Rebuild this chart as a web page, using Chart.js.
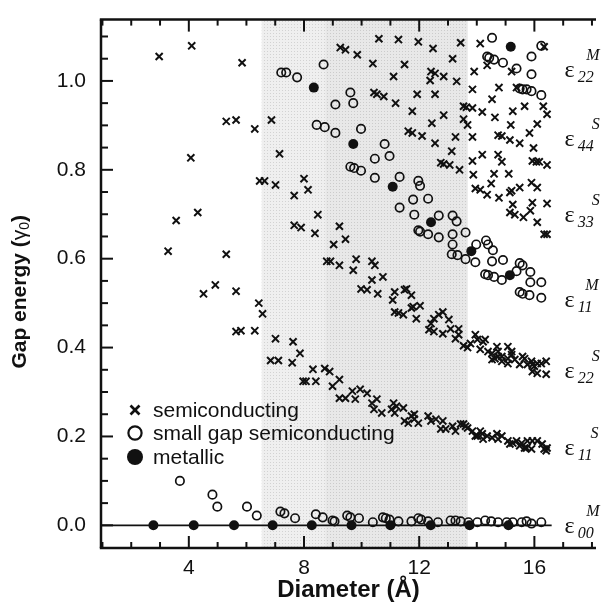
<!DOCTYPE html>
<html>
<head>
<meta charset="utf-8">
<script src="https://cdn.jsdelivr.net/npm/chart.js@4.4.0/dist/chart.umd.min.js"></script>
<style>
  body { margin: 0; background: #fff; }
  canvas { display: block; }
</style>
</head>
<body>
<canvas id="gapChart" width="603" height="604"></canvas>
<script>
// gap energies (units of gamma0) against tube diameter (Angstrom)
const semiconducting = [
  [2.97,1.055],[4.10,1.079],[5.85,1.041],[5.30,0.909],[5.64,0.912],[6.29,0.892],[6.87,0.912],
  [4.07,0.827],[7.15,0.836],[6.46,0.775],[6.63,0.775],[7.01,0.766],[7.66,0.742],[7.66,0.675],
  [3.56,0.686],[4.31,0.704],[3.28,0.617],[5.30,0.610],[4.51,0.521],[4.92,0.541],[5.64,0.527],
  [6.43,0.500],[6.56,0.476],[5.64,0.436],[5.81,0.438],[6.29,0.438],[7.01,0.420],[7.62,0.413],
  [6.84,0.371],[7.11,0.371],[7.59,0.366],[7.86,0.387],
  [9.26,1.075],[9.44,1.070],[9.85,1.059],[10.60,1.095],[11.28,1.093],[10.39,1.039],[11.49,1.037],
  [11.11,1.010],[10.43,0.974],[10.53,0.970],[10.77,0.965],[11.18,0.950],[8.00,0.780],[8.14,0.755],
  [11.97,1.088],[12.48,1.073],[13.44,1.086],[13.16,1.050],[12.41,1.021],[12.55,1.017],[12.85,1.010],
  [12.38,1.001],[13.30,0.999],[11.93,0.970],[12.55,0.970],[11.76,0.932],[12.85,0.923],[13.54,0.943],
  [13.64,0.941],[12.44,0.905],[13.54,0.914],[13.68,0.901],[11.62,0.887],[11.76,0.883],[12.10,0.876],
  [13.26,0.874],[12.55,0.860],[13.13,0.842],[12.75,0.816],[12.85,0.813],[13.06,0.811],[13.40,0.800],
  [8.48,0.699],[7.90,0.670],[8.38,0.657],[9.23,0.673],[9.44,0.644],[9.03,0.632],[8.79,0.594],
  [8.92,0.594],[9.23,0.585],[9.81,0.599],[9.71,0.574],[10.36,0.594],[10.46,0.585],[10.36,0.552],
  [10.74,0.559],[9.98,0.532],[10.19,0.530],[10.56,0.521],[11.15,0.525],[11.49,0.530],[11.08,0.507],
  [11.15,0.480],[11.28,0.478],[11.45,0.474],
  [14.12,1.084],[13.91,1.021],[13.85,0.981],[14.77,0.985],[15.21,1.021],[14.36,1.035],[15.38,0.985],
  [16.34,1.077],[14.53,0.959],[13.85,0.939],[14.19,0.930],[15.25,0.932],[15.66,0.943],[16.31,0.943],
  [16.44,0.925],[14.63,0.918],[15.18,0.901],[16.10,0.903],[13.85,0.874],[14.74,0.878],[14.87,0.876],
  [15.15,0.867],[15.49,0.860],[15.83,0.883],[15.97,0.849],[14.19,0.834],[14.74,0.834],[14.87,0.818],
  [13.85,0.820],[15.93,0.820],[16.07,0.818],[16.17,0.818],[16.44,0.811],[13.88,0.789],[14.60,0.791],
  [15.11,0.791],[14.50,0.769],[13.95,0.758],[14.12,0.755],[15.21,0.753],[15.49,0.760],[15.90,0.771],
  [16.10,0.760],[14.36,0.744],[14.77,0.737],[15.15,0.749],[15.25,0.722],[15.93,0.726],[16.44,0.724],
  [15.15,0.704],[15.32,0.699],[15.62,0.693],[15.86,0.708],[16.10,0.682],[16.34,0.655],[16.44,0.655],
  [11.56,0.532],[11.73,0.518],[11.73,0.489],[12.03,0.494],[11.79,0.492],[11.90,0.465],[12.82,0.480],
  [12.68,0.474],[12.51,0.465],[13.03,0.463],[12.41,0.454],[12.34,0.440],[12.51,0.436],[12.82,0.431],
  [13.09,0.442],[13.37,0.442],[13.26,0.420],[13.37,0.429],[13.54,0.404],[13.68,0.400],[13.95,0.429],
  [14.02,0.418],[14.29,0.418],[13.78,0.409],[14.22,0.413],[14.12,0.396],[14.39,0.391],[14.70,0.402],
  [14.74,0.380],[14.87,0.380],[14.74,0.391],[15.08,0.402],[15.21,0.391],[15.32,0.373],[15.59,0.380],
  [14.53,0.373],[14.53,0.387],[14.63,0.375],[14.87,0.369],[15.08,0.364],[15.08,0.375],[15.21,0.384],
  [15.49,0.362],[15.66,0.375],[15.76,0.362],[15.90,0.369],[15.93,0.362],[16.00,0.358],[16.10,0.364],
  [15.93,0.346],[16.10,0.342],[16.41,0.340],[16.41,0.369],[16.24,0.364],
  [7.97,0.324],[8.07,0.324],[8.41,0.324],[8.31,0.351],[8.72,0.353],[8.89,0.346],[8.99,0.313],
  [9.23,0.328],[9.23,0.286],[9.44,0.286],[9.78,0.284],[9.68,0.302],[9.95,0.306],[10.19,0.297],
  [10.53,0.284],[10.43,0.261],[10.70,0.253],[10.36,0.275],[11.11,0.275],[11.21,0.268],[11.45,0.264],
  [11.04,0.261],[11.15,0.253],[11.73,0.246],[11.83,0.239],[11.83,0.250],[11.62,0.230],[11.97,0.230],
  [11.49,0.235],[12.31,0.246],[12.41,0.235],[12.58,0.239],[12.82,0.235],[12.75,0.217],[12.92,0.217],
  [13.16,0.223],[13.26,0.212],[13.44,0.228],[13.61,0.223],[13.54,0.228],[13.68,0.219],[13.85,0.212],
  [13.95,0.201],[14.12,0.212],[14.02,0.201],[14.19,0.206],[14.36,0.201],[14.53,0.197],[14.70,0.206],
  [14.22,0.194],[14.74,0.194],[14.87,0.201],[15.08,0.190],[15.25,0.185],[15.15,0.183],[15.38,0.190],
  [15.49,0.179],[15.66,0.174],[15.56,0.185],[15.76,0.190],[15.93,0.190],[16.10,0.190],[16.27,0.183],
  [16.34,0.172],[16.44,0.174],[16.41,0.168],[15.73,0.174],[15.90,0.172]
];

const smallGap = [
  [7.21,1.019],[7.38,1.019],[7.76,1.008],[8.68,1.037],[9.61,0.974],[9.09,0.947],[9.71,0.950],
  [8.44,0.901],[8.72,0.896],[9.09,0.883],[9.98,0.892],[10.80,0.858],[10.46,0.825],[10.97,0.831],
  [9.61,0.807],[9.74,0.804],[9.98,0.798],[10.46,0.782],[11.32,0.784],
  [14.53,1.097],[14.36,1.055],[14.43,1.052],[14.60,1.048],[14.91,1.041],[15.38,1.028],[15.90,1.055],
  [16.24,1.079],[15.90,1.015],[15.49,0.983],[15.59,0.981],[15.73,0.981],[15.90,0.977],[16.24,0.968],
  [11.97,0.775],[12.03,0.764],
  [11.32,0.715],[11.79,0.733],[12.31,0.735],[11.83,0.699],[12.68,0.697],[11.97,0.664],[12.03,0.661],
  [12.31,0.655],[12.68,0.648],[13.16,0.697],[13.30,0.684],[13.61,0.659],[13.16,0.655],[13.16,0.632],
  [13.13,0.610],[13.33,0.608],[13.61,0.599],[13.98,0.632],[13.95,0.592],[14.32,0.641],[14.39,0.632],
  [14.56,0.619],[14.53,0.594],[14.91,0.597],[14.29,0.565],[14.39,0.563],[14.60,0.559],[14.87,0.552],
  [15.49,0.590],[15.59,0.585],[15.38,0.572],[15.86,0.570],[15.86,0.547],[16.24,0.547],[15.49,0.525],
  [15.59,0.521],[15.83,0.518],[16.24,0.512],
  [3.69,0.100],[4.82,0.069],[4.99,0.042],[6.02,0.042],[6.36,0.022],[7.18,0.031],[7.32,0.027],
  [7.69,0.016],[8.41,0.025],[8.65,0.018],[8.99,0.011],[9.06,0.009],[9.50,0.022],[9.61,0.018],
  [9.91,0.016],[10.39,0.007],[10.74,0.018],[10.84,0.016],[10.97,0.013],[11.28,0.009],[11.73,0.009],
  [11.97,0.016],[12.07,0.013],[12.31,0.009],[12.65,0.007],[13.09,0.011],[13.26,0.011],[13.44,0.009],
  [13.71,0.007],[14.02,0.007],[14.29,0.011],[14.50,0.009],[14.74,0.007],[15.04,0.007],[15.25,0.007],
  [15.56,0.007],[15.73,0.009],[15.90,0.004],[16.24,0.007]
];

const metallic = [
  [2.77,0],[4.17,0],[5.57,0],[6.91,0],[8.27,0],[9.65,0],[11.00,0],[12.40,0],[13.75,0],[15.10,0],
  [8.34,0.985],[9.71,0.858],[11.08,0.762],[12.41,0.682],[13.81,0.617],[15.15,0.563],[15.18,1.077]
];

const zeroLine = [[0.95, 0], [16.6, 0]];

const xTicks = [4, 8, 12, 16];
const yTicks = [0.0, 0.2, 0.4, 0.6, 0.8, 1.0];
const xRange = [0.95, 18.14];
const yRange = [-0.051, 1.138];

// diameter window shaded behind the points
const shadeBand = [6.53, 13.68];
const darkBand = [8.75, 13.68];

// transition labels on the right
const labelX = 17.05;
const bandLabels = [
  { sub: '22', sup: 'M', y: 1.023 },
  { sub: '44', sup: 'S', y: 0.867 },
  { sub: '33', sup: 'S', y: 0.697 },
  { sub: '11', sup: 'M', y: 0.505 },
  { sub: '22', sup: 'S', y: 0.346 },
  { sub: '11', sup: 'S', y: 0.172 },
  { sub: '00', sup: 'M', y: -0.004 }
];

const SANS = '"Liberation Sans", Arial, sans-serif';
const SERIF = '"Liberation Serif", "Times New Roman", serif';
const INK = '#111';

const toXY = pts => pts.map(([x, y]) => ({ x, y }));

function makePattern(ctx, base, dot) {
  const c = document.createElement('canvas');
  c.width = c.height = 3;
  const p = c.getContext('2d');
  p.fillStyle = base;
  p.fillRect(0, 0, 3, 3);
  p.fillStyle = dot;
  p.fillRect(0, 0, 1, 1);
  return ctx.createPattern(c, 'repeat');
}

function seg(ctx, x1, y1, x2, y2) {
  ctx.beginPath();
  ctx.moveTo(x1, y1);
  ctx.lineTo(x2, y2);
  ctx.stroke();
}

const decorations = {
  id: 'decorations',
  beforeDatasetsDraw(chart) {
    const { ctx, chartArea: a, scales: { x } } = chart;
    ctx.save();
    const l0 = x.getPixelForValue(shadeBand[0]), l1 = x.getPixelForValue(shadeBand[1]);
    ctx.fillStyle = makePattern(ctx, '#efefef', '#d2d2d2');
    ctx.fillRect(l0, a.top, l1 - l0, a.bottom - a.top);
    const d0 = x.getPixelForValue(darkBand[0]), d1 = x.getPixelForValue(darkBand[1]);
    ctx.fillStyle = makePattern(ctx, '#e8e8e8', '#cbcbcb');
    ctx.fillRect(d0, a.top, d1 - d0, a.bottom - a.top);
    ctx.restore();
  },
  afterDraw(chart) {
    const { ctx, chartArea: a, scales: { x, y } } = chart;
    ctx.save();
    ctx.strokeStyle = INK;
    ctx.fillStyle = INK;

    // frame: left, top and bottom only
    ctx.lineWidth = 2.5;
    seg(ctx, a.left, a.top, a.left, a.bottom);
    seg(ctx, a.left - 1.2, a.top, a.right, a.top);
    seg(ctx, a.left - 1.2, a.bottom, a.right, a.bottom);

    // inward ticks
    ctx.lineWidth = 2;
    for (let v = Math.ceil(x.min); v <= x.max; v += 1) {
      const px = x.getPixelForValue(v);
      const len = xTicks.includes(v) ? 12 : 6;
      seg(ctx, px, a.bottom, px, a.bottom - len);
      seg(ctx, px, a.top, px, a.top + len);
    }
    for (let i = 0; i * 0.05 <= y.max; i++) {
      const py = y.getPixelForValue(i * 0.05);
      seg(ctx, a.left, py, a.left + (i % 4 === 0 ? 12 : 7), py);
    }

    // right-hand transition labels
    const lx = x.getPixelForValue(labelX);
    bandLabels.forEach(b => {
      const py = y.getPixelForValue(b.y);
      ctx.textBaseline = 'middle';
      ctx.textAlign = 'left';
      ctx.font = '24px ' + SERIF;
      ctx.fillText('\u03b5', lx, py);
      const w = ctx.measureText('\u03b5').width;
      ctx.font = 'italic 16px ' + SERIF;
      ctx.fillText(b.sub, lx + w + 3, py + 7);
      const sw = ctx.measureText(b.sub).width;
      ctx.textAlign = 'right';
      ctx.fillText(b.sup, lx + w + sw + 9, py - 15);
    });

    // legend
    const rows = [
      { label: 'semiconducting', y: 410, mark: 'cross' },
      { label: 'small gap semiconducting', y: 433, mark: 'ring' },
      { label: 'metallic', y: 457, mark: 'dot' }
    ];
    rows.forEach(r => {
      const mx = 135;
      if (r.mark === 'cross') {
        ctx.lineWidth = 2.6;
        seg(ctx, mx - 4.5, r.y - 4.5, mx + 4.5, r.y + 4.5);
        seg(ctx, mx - 4.5, r.y + 4.5, mx + 4.5, r.y - 4.5);
      } else if (r.mark === 'ring') {
        ctx.lineWidth = 2.2;
        ctx.beginPath();
        ctx.arc(mx, r.y, 6.6, 0, Math.PI * 2);
        ctx.stroke();
      } else {
        ctx.beginPath();
        ctx.arc(mx, r.y, 8, 0, Math.PI * 2);
        ctx.fill();
      }
      ctx.font = '21px ' + SANS;
      ctx.textAlign = 'left';
      ctx.textBaseline = 'middle';
      ctx.fillText(r.label, 153, r.y + 1);
    });

    // x axis title
    ctx.font = 'bold 24px ' + SANS;
    ctx.textAlign = 'center';
    ctx.textBaseline = 'middle';
    ctx.fillText('Diameter (\u00c5)', (a.left + a.right) / 2, 590);

    // y axis title with subscript
    const parts = [
      { t: 'Gap energy (', f: 'bold 21px ' + SANS, dy: 0 },
      { t: '\u03b3', f: '21px ' + SANS, dy: 0 },
      { t: '0', f: '14px ' + SANS, dy: 5 },
      { t: ')', f: 'bold 21px ' + SANS, dy: 0 }
    ];
    let total = 0;
    parts.forEach(p => { ctx.font = p.f; p.w = ctx.measureText(p.t).width; total += p.w; });
    ctx.translate(20, (a.top + a.bottom) / 2 + 8);
    ctx.rotate(-Math.PI / 2);
    ctx.textAlign = 'left';
    let cx = -total / 2;
    parts.forEach(p => {
      ctx.font = p.f;
      ctx.fillText(p.t, cx, p.dy);
      cx += p.w;
    });
    ctx.restore();
  }
};

new Chart(document.getElementById('gapChart'), {
  type: 'scatter',
  data: {
    datasets: [
      {
        label: 'metallic',
        data: toXY(metallic),
        pointStyle: 'circle',
        pointRadius: 5,
        backgroundColor: INK,
        borderColor: INK,
        borderWidth: 0,
        order: 1
      },
      {
        label: 'semiconducting',
        data: toXY(semiconducting),
        pointStyle: 'crossRot',
        pointRadius: 5,
        borderColor: INK,
        borderWidth: 2,
        order: 2
      },
      {
        label: 'small gap semiconducting',
        data: toXY(smallGap),
        pointStyle: 'circle',
        pointRadius: 4.2,
        backgroundColor: 'rgba(0,0,0,0)',
        borderColor: INK,
        borderWidth: 1.7,
        order: 3
      },
      {
        type: 'line',
        data: toXY(zeroLine),
        borderColor: INK,
        borderWidth: 1.6,
        pointRadius: 0,
        order: 4
      }
    ]
  },
  options: {
    responsive: false,
    animation: false,
    events: [],
    layout: { padding: { top: 15, right: 0, bottom: 0, left: 0 } },
    plugins: { legend: { display: false }, tooltip: { enabled: false } },
    scales: {
      x: {
        type: 'linear',
        min: xRange[0],
        max: xRange[1],
        grid: { display: false },
        border: { display: false },
        afterBuildTicks: s => { s.ticks = xTicks.map(v => ({ value: v })); },
        afterFit: s => { s.height = 56; },
        ticks: {
          autoSkip: false,
          maxRotation: 0,
          padding: 0,
          color: INK,
          font: { family: SANS, size: 21 },
          callback: v => String(v)
        }
      },
      y: {
        type: 'linear',
        min: yRange[0],
        max: yRange[1],
        grid: { display: false },
        border: { display: false },
        afterBuildTicks: s => { s.ticks = yTicks.map(v => ({ value: v })); },
        afterFit: s => { s.width = 101; },
        ticks: {
          autoSkip: false,
          padding: 7,
          color: INK,
          font: { family: SANS, size: 21 },
          callback: v => v.toFixed(1)
        }
      }
    }
  },
  plugins: [decorations]
});
</script>
</body>
</html>
